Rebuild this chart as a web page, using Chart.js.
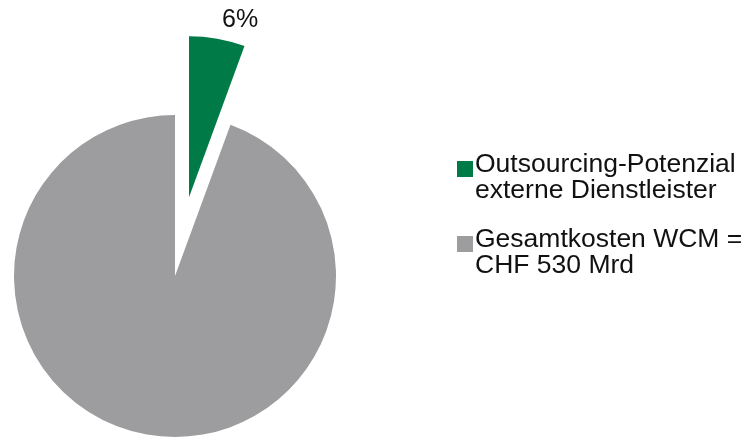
<!DOCTYPE html>
<html>
<head>
<meta charset="utf-8">
<script src="https://cdn.jsdelivr.net/npm/chart.js@4.4.1/dist/chart.umd.min.js"></script>
<style>
  html, body { margin: 0; padding: 0; background: #fff; }
  #wrap { position: relative; width: 747px; height: 439px; }
  #c { position: absolute; left: 0; top: 0; }
  #legend {
    position: absolute; left: 457px; top: 150px;
    font-family: 'Liberation Sans', Arial, Helvetica, sans-serif;
    font-size: 26.5px; line-height: 26px; color: #111;
  }
  .item { position: relative; padding-left: 18px; margin-bottom: 23px; }
  .box { position: absolute; left: 0; top: 11px; width: 16px; height: 16px; }
</style>
</head>
<body>
<div id="wrap">
  <canvas id="c" width="747" height="439"></canvas>
  <div id="legend"></div>
</div>
<script>
// data
var labels = [
  ['Outsourcing-Potenzial', 'externe Dienstleister'],
  ['Gesamtkosten WCM =', 'CHF 530 Mrd']
];
var shares = [5.6, 94.4];
var shareLabels = ['6%', null];
var colors = ['#007a46', '#9d9d9f'];

var PULL = 80; // px the small slice is pulled out

// html legend (labels need two lines)
var leg = document.getElementById('legend');
labels.forEach(function (lines, i) {
  var d = document.createElement('div');
  d.className = 'item';
  d.innerHTML = '<span class="box" style="background:' + colors[i] + '"></span>' + lines.join('<br>');
  leg.appendChild(d);
});

function pullOf(i) { return shareLabels[i] ? PULL : 0; }

// draw arcs ourselves so the pulled slice keeps its true shape
// (chart.js' own offset also reshapes the arc)
var explode = {
  id: 'explode',
  beforeDatasetDraw: function (chart, args) {
    var ctx = chart.ctx;
    args.meta.data.forEach(function (arc, i) {
      var mid = (arc.startAngle + arc.endAngle) / 2;
      ctx.save();
      ctx.translate(Math.cos(mid) * pullOf(i), Math.sin(mid) * pullOf(i));
      arc.draw(ctx);
      ctx.restore();
    });
    return false;
  },
  afterDraw: function (chart) {
    var ctx = chart.ctx;
    chart.getDatasetMeta(0).data.forEach(function (arc, i) {
      if (!shareLabels[i]) return;
      var mid = (arc.startAngle + arc.endAngle) / 2;
      var cx = arc.x + Math.cos(mid) * pullOf(i);
      var cy = arc.y + Math.sin(mid) * pullOf(i);
      var a = arc.startAngle + 0.8 * (arc.endAngle - arc.startAngle);
      var r = arc.outerRadius + 23;
      ctx.save();
      ctx.font = "25px 'Liberation Sans', Arial, sans-serif";
      ctx.fillStyle = '#111';
      ctx.textAlign = 'center';
      ctx.textBaseline = 'middle';
      ctx.fillText(shareLabels[i], cx + Math.cos(a) * r, cy + Math.sin(a) * r);
      ctx.restore();
    });
  }
};

new Chart(document.getElementById('c'), {
  type: 'pie',
  data: {
    labels: labels.map(function (l) { return l.join(' '); }),
    datasets: [{
      data: shares,
      backgroundColor: colors,
      borderWidth: 0
    }]
  },
  options: {
    responsive: false,
    animation: false,
    radius: 161,
    layout: { padding: { left: 0, right: 397, top: 113, bottom: 0 } },
    plugins: {
      legend: { display: false },
      tooltip: { enabled: false }
    }
  },
  plugins: [explode]
});
</script>
</body>
</html>
